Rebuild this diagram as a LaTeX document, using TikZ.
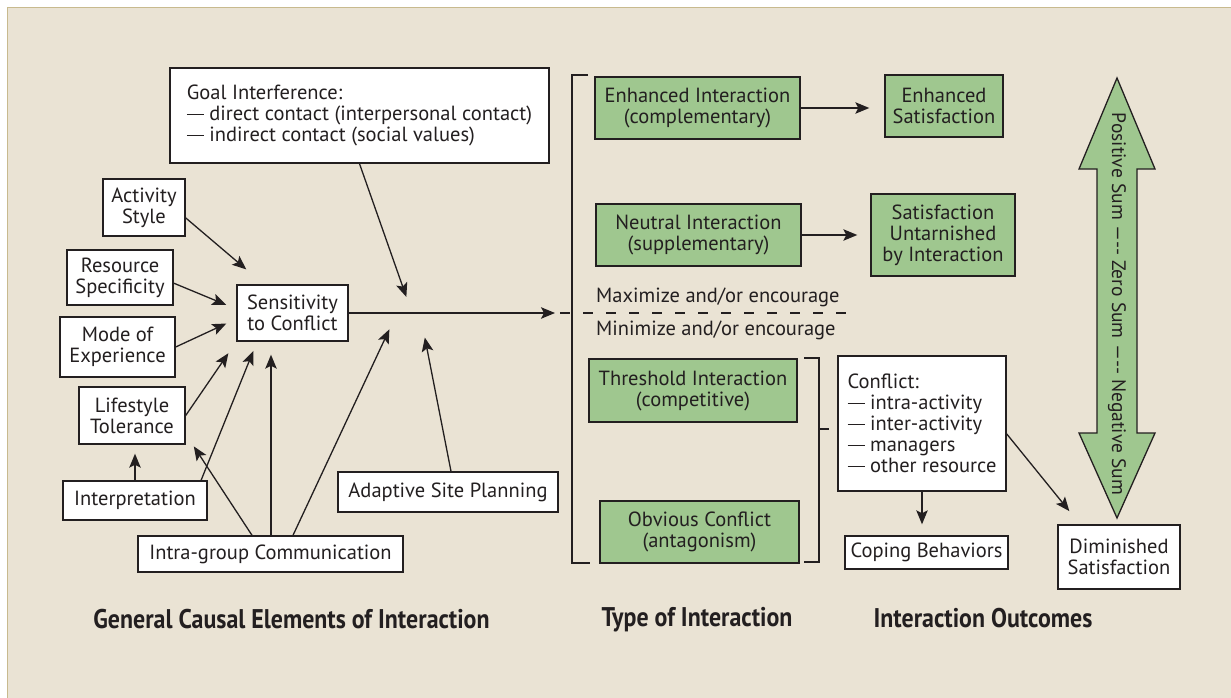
\documentclass[tikz,border=0pt]{standalone}
\usepackage{fontspec}
\setmainfont{PT Sans}
\newfontfamily\headfont[FakeStretch=0.885]{PT Sans}
\usetikzlibrary{arrows.meta}
\definecolor{paper}{RGB}{234,227,212}
\definecolor{frame}{RGB}{200,186,142}
\definecolor{leaf}{RGB}{159,199,143}
\definecolor{ink}{RGB}{35,31,32}
\newcommand\boxfont{\fontsize{20.5}{21}\selectfont}
\newcommand\headtype{\headfont\bfseries\fontsize{27}{30}\selectfont}
\newcommand\listdash{\rule[0.27em]{0.85em}{0.06em}\hspace{0.25em}}
\tikzset{
  elem/.style={draw=ink, fill=white, line width=1.4pt, inner sep=2pt,
    align=center, text=ink, font=\boxfont},
  kind/.style={elem, fill=leaf},
  flow/.style={draw=ink, line width=1.3pt,
    -{Stealth[length=14pt,width=11.5pt,inset=3pt]}},
  heading/.style={text=ink, font=\headtype},
}
\begin{document}
\begin{tikzpicture}[x=1pt,y=-1pt]
  \useasboundingbox (0,0) rectangle (1231,698);
  \fill[white] (0,0) rectangle (1231,698);
  \draw[fill=paper, draw=frame, line width=1pt] (7.5,7.5) rectangle (1240,710);

  % causal elements
  \node[elem, minimum width=379pt, minimum height=95pt, align=left] (goal) at (359.5,115.5)
    {Goal Interference:\\\listdash direct contact (interpersonal contact)\\\listdash indirect contact (social values)};
  \node[elem, minimum width=82pt, minimum height=57pt] (act) at (144,207.5) {Activity\\Style};
  \node[elem, minimum width=106pt, minimum height=55pt] (res) at (120,277.5) {Resource\\Specificity};
  \node[elem, minimum width=115pt, minimum height=60pt] (mode) at (117.5,347) {Mode of\\Experience};
  \node[elem, minimum width=106pt, minimum height=57pt] (life) at (132,415.5) {Lifestyle\\Tolerance};
  \node[elem, minimum width=144pt, minimum height=39pt] (interp) at (135,500.5) {Interpretation};
  \node[elem, minimum width=265pt, minimum height=36pt] (intra) at (270.5,554) {Intra-group Communication};
  \node[elem, minimum width=111pt, minimum height=56pt] (sens) at (292.5,313) {Sensitivity\\to Conflict};
  \node[elem, minimum width=220pt, minimum height=40pt] (adapt) at (448,492) {Adaptive Site Planning};

  % type of interaction
  \node[kind, minimum width=205pt, minimum height=62pt] (enh) at (697.5,108) {Enhanced Interaction\\(complementary)};
  \node[kind, minimum width=205pt, minimum height=62pt] (neu) at (698.5,235) {Neutral Interaction\\(supplementary)};
  \node[kind, minimum width=208pt, minimum height=63pt] (thr) at (693,390.5) {Threshold Interaction\\(competitive)};
  \node[kind, minimum width=199pt, minimum height=62pt] (obv) at (699.5,532) {Obvious Conflict\\(antagonism)};
  \node[text=ink, font=\boxfont, anchor=west, inner sep=0pt] (maxi) at (596,297) {Maximize and/or encourage};
  \node[text=ink, font=\boxfont, anchor=west, inner sep=0pt] (mini) at (596,330) {Minimize and/or encourage};

  % outcomes
  \node[kind, minimum width=118pt, minimum height=62pt] (enhsat) at (944,106) {Enhanced\\Satisfaction};
  \node[kind, minimum width=144pt, minimum height=82pt] (untar) at (943,235) {Satisfaction\\Untarnished\\by Interaction};
  \node[elem, minimum width=168pt, minimum height=135pt, align=left] (confl) at (922,423.5)
    {Conflict:\\\listdash intra-activity\\\listdash inter-activity\\\listdash managers\\\listdash other resource};
  \node[elem, minimum width=163pt, minimum height=33pt] (cope) at (926.5,552.5) {Coping Behaviors};
  \node[elem, minimum width=122pt, minimum height=64pt] (dimin) at (1119,557) {Diminished\\Satisfaction};

  % scale arrow
  \draw[draw=ink, fill=leaf, line width=1.3pt]
    (1117,78) -- (1155,169) -- (1137,169) -- (1137,433) -- (1155,433) -- (1117,518)
    -- (1079,433) -- (1097,433) -- (1097,169) -- (1079,169) -- cycle;
  \node[rotate=-90, text=ink, font=\fontsize{19.5}{21}\selectfont] (scale) at (1117,304)
    {Positive Sum —-{}- Zero Sum —-{}- Negative Sum};

  % headings
  \node[heading] (causes) at (291.5,619) {General Causal Elements of Interaction};
  \node[heading] (types) at (697,620) {Type of Interaction};
  \node[heading] (outcomes) at (983,618) {Interaction Outcomes};

  % brackets and divider
  \draw[ink, line width=1.3pt] (588,75) -- (572,75) -- (572,563) -- (590,563);
  \draw[ink, line width=1.3pt] (804,358) -- (819,358) -- (819,562) -- (804,562);
  \draw[ink, line width=1.3pt] (819,429) -- (829,429);
  \draw[ink, line width=1.3pt, dash pattern=on 10pt off 13pt] (560,313) -- (853,313);

  % connectors
  \coordinate (in) at (555,313);
  \coordinate (hitgoal) at (412,313);
  \coordinate (hitplan) at (420,313);
  \coordinate (hitcomm) at (397,313);
  \draw[flow] (sens.east) -- (in);
  \draw[flow, shorten >=17pt] (goal.south) -- (hitgoal);
  \draw[flow, shorten >=25pt] ([xshift=3pt]adapt.north) -- (hitplan);
  \draw[flow, shorten >=18pt] ([xshift=22.5pt]intra.north) -- (hitcomm);
  \draw[flow, shorten >=23pt] (act.-14) -- (sens.135.5);
  \draw[flow, shorten >=11pt] (res.-6) -- (sens.176);
  \draw[flow, shorten >=11pt] (mode.east) -- (sens.-174);
  \draw[flow, shorten >=14pt] (life.east) -- (sens.south west);
  \draw[flow, shorten >=10pt] (interp.17.5) -- (sens.-141.7);
  \draw[flow, shorten >=13pt] ([xshift=0.5pt]intra.north) -- ([xshift=0.5pt]intra.north |- sens.south);
  \draw[flow, shorten >=2pt] ([xshift=-18.5pt]intra.north) -- ([xshift=7pt]life.south east);
  \draw[flow, shorten >=9pt] (interp.north) -- (interp.north |- life.south);
  \draw[flow, shorten >=15pt] (enh.east) -- (enh.east -| enhsat.west);
  \draw[flow, shorten >=13pt] (neu.east) -- (neu.east -| untar.west);
  \draw[flow, shorten >=11pt] (confl.south) -- (confl.south |- cope.north);
  \draw[flow, shorten >=17pt] (confl.-7) -- (dimin.140.6);
\end{tikzpicture}
\end{document}
